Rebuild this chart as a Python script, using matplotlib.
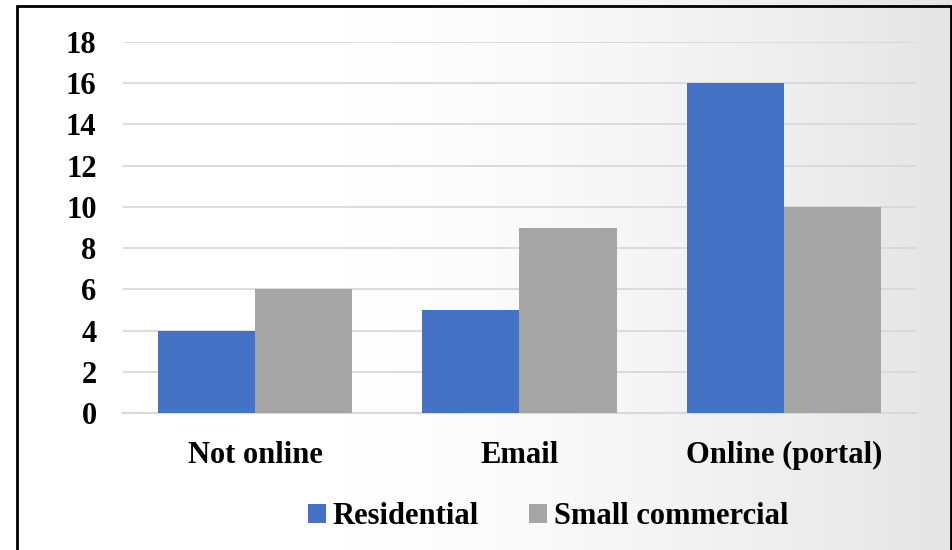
import numpy as np
import matplotlib.pyplot as plt
from matplotlib.patches import Rectangle
from matplotlib.colors import LinearSegmentedColormap

categories = ["Not online", "Email", "Online (portal)"]
residential = [4, 5, 16]
small_commercial = [6, 9, 10]
yticks = [0, 2, 4, 6, 8, 10, 12, 14, 16, 18]

W, H = 953, 550
fig = plt.figure(figsize=(W / 100, H / 100), dpi=100)
plt.rcParams['font.family'] = ['Liberation Serif', 'DejaVu Serif']

# Chart-area background: white on the left fading to light gray on the right
bg = fig.add_axes([0, 0, 1, 1], zorder=-10)
grad = np.linspace(0, 1, 512)
grad = np.clip((grad - 0.35) / 0.65, 0, 1) ** 1.4
cmap = LinearSegmentedColormap.from_list("bg", ["#ffffff", "#e5e5e5"])
bg.imshow(grad[None, :], aspect='auto', cmap=cmap, extent=[0, 1, 0, 1],
          vmin=0, vmax=1)
bg.set_xlim(0, 1)
bg.set_ylim(0, 1)
bg.axis('off')
# outer frame
bg.add_patch(Rectangle((16.5 / W, -0.05), (951 - 16.5) / W, 1.05 - 5.5 / H,
                       fill=False, edgecolor='black', linewidth=2.0,
                       transform=bg.transAxes, clip_on=False))

left, right = 123 / W, 916 / W
top, bottom = 42 / H, 413 / H
ax = fig.add_axes([left, 1 - bottom, right - left, bottom - top])
ax.patch.set_alpha(0)

x = np.arange(len(categories))
bw = 0.367
ax.bar(x - bw / 2, residential, bw, color='#4472c4', label='Residential', zorder=3)
ax.bar(x + bw / 2, small_commercial, bw, color='#a5a5a5', label='Small commercial', zorder=3)

ax.set_xlim(-0.5, len(categories) - 0.5)
ax.set_ylim(0, 18)
ax.set_yticks(yticks)
ax.set_yticklabels([str(t) for t in yticks], fontsize=22, fontweight='bold')
ax.set_xticks(x)
ax.set_xticklabels(categories, fontsize=22, fontweight='bold')
ax.tick_params(axis='both', length=0)
ax.tick_params(axis='y', pad=19)
ax.tick_params(axis='x', pad=20)
ax.grid(axis='y', color='#d9d9d9', linewidth=1.3, zorder=0)
for s in ['top', 'right', 'left']:
    ax.spines[s].set_visible(False)
ax.spines['bottom'].set_color('#d9d9d9')
ax.spines['bottom'].set_linewidth(1.5)

leg = fig.legend(loc='center', bbox_to_anchor=(548 / W, 1 - 517 / H), ncol=2,
                 frameon=False, prop={'size': 22, 'weight': 'bold'},
                 handlelength=0.6, handleheight=0.6, handletextpad=0.2,
                 columnspacing=1.65)

fig.savefig('out.png', dpi=100)
